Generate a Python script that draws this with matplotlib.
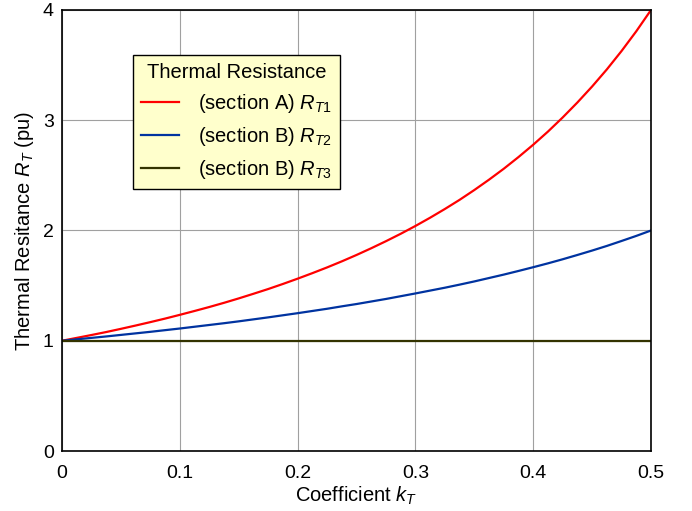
import matplotlib
matplotlib.use("Agg")
import matplotlib.pyplot as plt

plt.rcParams['font.family'] = ['Liberation Sans', 'DejaVu Sans']
plt.rcParams['mathtext.fontset'] = 'custom'
plt.rcParams['mathtext.rm'] = 'Liberation Sans'
plt.rcParams['mathtext.it'] = 'Liberation Sans:italic'

# values
k = [0.0, 0.0125, 0.025, 0.0375, 0.05, 0.0625, 0.075, 0.0875, 0.1, 0.1125,
     0.125, 0.1375, 0.15, 0.1625, 0.175, 0.1875, 0.2, 0.2125, 0.225, 0.2375,
     0.25, 0.2625, 0.275, 0.2875, 0.3, 0.3125, 0.325, 0.3375, 0.35, 0.3625,
     0.375, 0.3875, 0.4, 0.4125, 0.425, 0.4375, 0.45, 0.4625, 0.475, 0.4875, 0.5]
rt1 = [1.0, 1.026, 1.052, 1.079, 1.108, 1.138, 1.169, 1.201, 1.235, 1.270,
       1.306, 1.344, 1.384, 1.426, 1.469, 1.515, 1.563, 1.613, 1.665, 1.720,
       1.778, 1.839, 1.903, 1.970, 2.041, 2.116, 2.195, 2.278, 2.367, 2.461,
       2.560, 2.666, 2.778, 2.897, 3.025, 3.161, 3.306, 3.461, 3.628, 3.807, 4.0]
rt2 = [1.0, 1.013, 1.026, 1.039, 1.053, 1.067, 1.081, 1.096, 1.111, 1.127,
       1.143, 1.159, 1.176, 1.194, 1.212, 1.231, 1.250, 1.270, 1.290, 1.312,
       1.333, 1.356, 1.379, 1.404, 1.429, 1.455, 1.481, 1.509, 1.538, 1.569,
       1.600, 1.633, 1.667, 1.702, 1.739, 1.778, 1.818, 1.860, 1.905, 1.951, 2.0]
rt3 = [1.0] * len(k)

labels = ["(section A) $R_{T\\mathrm{1}}$",
          "(section B) $R_{T\\mathrm{2}}$",
          "(section B) $R_{T\\mathrm{3}}$"]
colors = ["#ff0000", "#0033a0", "#333300"]

fs = 14.5

fig = plt.figure(figsize=(6.92, 5.11), dpi=100)
ax = fig.add_axes([62 / 692, 1 - 451 / 511, 589 / 692, 441 / 511])

for y, c, lab in zip([rt1, rt2, rt3], colors, labels):
    ax.plot(k, y, color=c, lw=1.6, label=lab)

ax.set_xlim(0, 0.5)
ax.set_ylim(0, 4)
ax.set_xticks([0, 0.1, 0.2, 0.3, 0.4, 0.5])
ax.set_xticklabels(["0", "0.1", "0.2", "0.3", "0.4", "0.5"])
ax.set_yticks([0, 1, 2, 3, 4])
ax.tick_params(length=0, labelsize=14)
ax.tick_params(axis="x", pad=10)
ax.tick_params(axis="y", pad=6)
ax.grid(True, color="#a0a0a0", lw=0.8)
for s in ax.spines.values():
    s.set_color("black")
    s.set_linewidth(1.2)

ax.set_xlabel("Coefficient $k_T$", fontsize=fs, labelpad=2)
ax.set_ylabel("Thermal Resitance $R_T$ (pu)", fontsize=fs, labelpad=5)

leg = ax.legend(title="Thermal Resistance", loc="upper left",
                bbox_to_anchor=(0.12, 0.898), borderaxespad=0,
                fontsize=fs, title_fontsize=fs, fancybox=False,
                framealpha=1, edgecolor="black", facecolor="#ffffcc",
                handlelength=1.9, handletextpad=0.95, labelspacing=0.5,
                borderpad=0.4)
leg.get_frame().set_linewidth(1.0)

fig.savefig("out.png", dpi=100)
